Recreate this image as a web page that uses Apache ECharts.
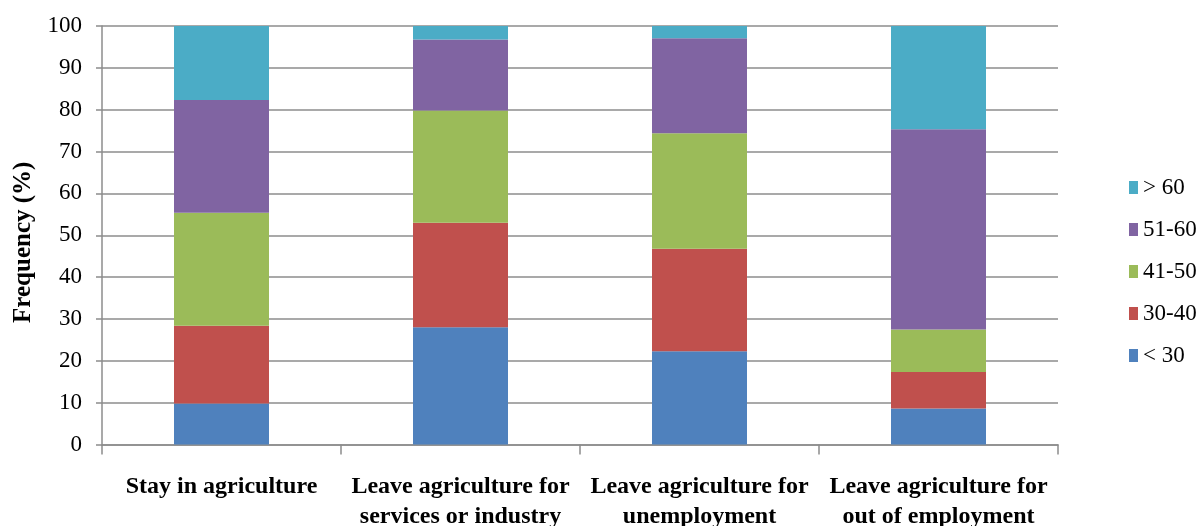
<!DOCTYPE html>
<html>
<head>
<meta charset="utf-8">
<script src="https://cdn.jsdelivr.net/npm/echarts@6/dist/echarts.min.js"></script>
<style>
  html, body { margin: 0; padding: 0; background: #ffffff; }
  #chart { width: 1203px; height: 526px; }
</style>
</head>
<body>
<div id="chart"></div>
<script>
// Age groups of farm household heads by occupational outcome (% of each group)
const categories = [
  'Stay in agriculture',
  'Leave agriculture for\nservices or industry',
  'Leave agriculture for\nunemployment',
  'Leave agriculture for\nout of employment'
];
const under30   = [9.8, 28.0, 22.3, 8.6];
const age30to40 = [18.6, 25.0, 24.5, 8.7];
const age41to50 = [27.0, 26.8, 27.6, 10.2];
const age51to60 = [26.9, 17.0, 22.7, 47.8];
const over60    = [17.7, 3.2, 2.9, 24.7];

const seriesNames = ['< 30', '30-40', '41-50', '51-60', '> 60'];
const seriesValues = [under30, age30to40, age41to50, age51to60, over60];
const seriesColors = ['#4F81BD', '#C0504D', '#9BBB59', '#8064A2', '#4BACC6'];

const serif = '"Liberation Serif", "Times New Roman", serif';
const gridGray = '#8c8c8c';

const chart = echarts.init(document.getElementById('chart'), null, { renderer: 'canvas' });

chart.setOption({
  backgroundColor: '#ffffff',
  animation: false,
  grid: {
    left: 102, right: 145, top: 26, bottom: 81.5,
    containLabel: false,
    outerBoundsMode: 'none'
  },
  legend: {
    orient: 'vertical',
    left: 1124,
    top: 171,
    itemWidth: 9,
    itemHeight: 13,
    itemGap: 19,
    icon: 'rect',
    data: ['> 60', '51-60', '41-50', '30-40', '< 30'],
    textStyle: { fontFamily: serif, fontSize: 23, color: '#000000' }
  },
  xAxis: {
    type: 'category',
    data: categories,
    axisLine: { lineStyle: { color: gridGray, width: 1.5 } },
    axisTick: { show: true, length: 10, lineStyle: { color: gridGray, width: 1.5 } },
    axisLabel: {
      interval: 0,
      margin: 27,
      fontFamily: serif,
      fontWeight: 'bold',
      fontSize: 24,
      lineHeight: 30,
      color: '#000000'
    }
  },
  yAxis: {
    type: 'value',
    min: 0,
    max: 100,
    interval: 10,
    name: 'Frequency (%)',
    nameLocation: 'middle',
    nameGap: 66,
    nameTextStyle: {
      fontFamily: serif,
      fontWeight: 'bold',
      fontSize: 25,
      color: '#000000',
      padding: [0, 14, 0, 0]
    },
    axisLine: { show: true, lineStyle: { color: gridGray, width: 1.5 } },
    axisTick: { show: true, length: 6, lineStyle: { color: gridGray, width: 1.5 } },
    axisLabel: { margin: 20, fontFamily: serif, fontSize: 23, color: '#000000' },
    splitLine: { show: true, lineStyle: { color: gridGray, width: 1.5 } }
  },
  series: seriesNames.map((name, i) => ({
    name: name,
    type: 'bar',
    stack: 'total',
    barWidth: 95,
    data: seriesValues[i],
    itemStyle: { color: seriesColors[i] }
  }))
});
</script>
</body>
</html>
